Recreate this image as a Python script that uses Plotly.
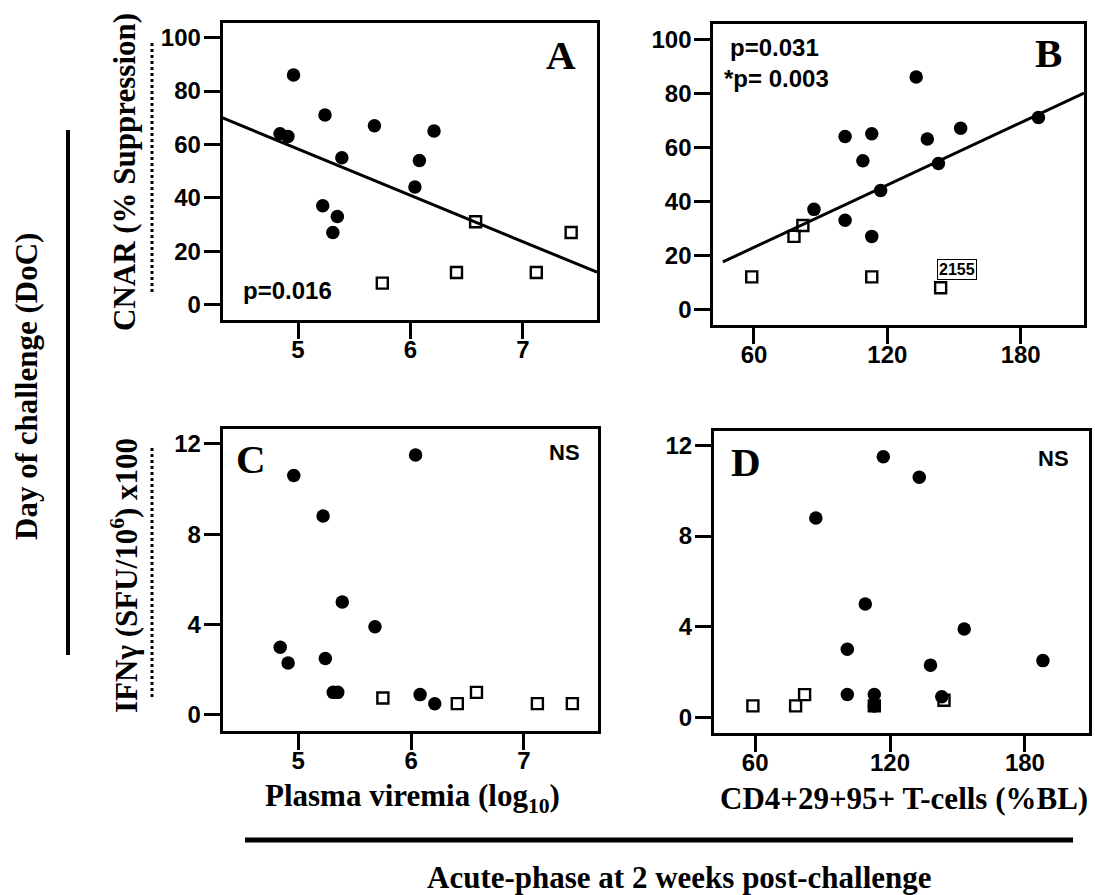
import numpy as np
import plotly.graph_objects as go

W, H = 1095, 895

# ---- data (per animal) ----
# controllers (filled circles)
ctrl_viremia = [4.84, 4.91, 4.96, 5.22, 5.24, 5.31, 5.35, 5.39, 5.68, 6.04, 6.08, 6.21]
ctrl_cd4 = [101, 138, 133, 87, 188, 113, 101, 109, 153, 117, 143, 113]
ctrl_cnar = [64, 63, 86, 37, 71, 27, 33, 55, 67, 44, 54, 65]
ctrl_ifn = [3.0, 2.3, 10.6, 8.8, 2.5, 1.0, 1.0, 5.0, 3.9, 11.5, 0.9, 0.5]
# progressors (open squares)
prog_viremia = [5.75, 6.41, 6.58, 7.12, 7.43]
prog_cd4 = [144, 59, 82, 113, 78]
prog_cnar = [8, 12, 31, 12, 27]
prog_ifn = [0.75, 0.5, 1.0, 0.5, 0.5]

vir_ticks = [5, 6, 7]
cd4_ticks = [60, 120, 180]
cnar_ticks = [0, 20, 40, 60, 80, 100]
ifn_ticks = [0, 4, 8, 12]

vir_range = [4.33, 7.66]
cd4_range = [41.7, 208.5]
cd4_line_range = [46, 208.5]
cnar_range = [-5.8, 105.6]
ifn_range = [-0.71, 12.64]


def fx(p):
    return p / W


def fy(p):
    return 1 - p / H


fig = go.Figure()

panels = {
    "A": ("x", "y", ctrl_viremia, prog_viremia, ctrl_cnar, prog_cnar, (222.7, 597, 22.7, 320)),
    "B": ("x2", "y2", ctrl_cd4, prog_cd4, ctrl_cnar, prog_cnar, (713.3, 1084, 24, 325)),
    "C": ("x3", "y3", ctrl_viremia, prog_viremia, ctrl_ifn, prog_ifn, (222.7, 598.3, 429.3, 731)),
    "D": ("x4", "y4", ctrl_cd4, prog_cd4, ctrl_ifn, prog_ifn, (714, 1089, 431, 733.3)),
}

# regression lines (A and B), fitted over all animals
for name, xr in (("A", vir_range), ("B", cd4_line_range)):
    xa, ya, xc, xp, yc, yp, _ = panels[name]
    xs = np.array(list(xc) + list(xp), dtype=float)
    ys = np.array(list(yc) + list(yp), dtype=float)
    m, b = np.polyfit(xs, ys, 1)
    lx = np.array(xr)
    fig.add_trace(go.Scatter(x=lx, y=m * lx + b, mode="lines", xaxis=xa, yaxis=ya,
                             line=dict(color="black", width=3), showlegend=False,
                             hoverinfo="skip", cliponaxis=True))

for name, (xa, ya, xc, xp, yc, yp, box) in panels.items():
    fig.add_trace(go.Scatter(x=xp, y=yp, mode="markers", xaxis=xa, yaxis=ya,
                             marker=dict(symbol="square-open", size=11, color="black",
                                         line=dict(width=2.4, color="black")),
                             showlegend=False, cliponaxis=False))
    fig.add_trace(go.Scatter(x=xc, y=yc, mode="markers", xaxis=xa, yaxis=ya,
                             marker=dict(symbol="circle", size=13.5, color="black"),
                             showlegend=False, cliponaxis=False))

tickfont = dict(family="Liberation Sans", size=24, color="black")
common = dict(showgrid=False, zeroline=False, showline=True, linecolor="black",
              linewidth=3, mirror=True, ticks="outside", ticklen=16, tickwidth=3,
              tickcolor="black", tickfont=tickfont)


def bold(vals):
    return ["<b>%g</b>" % v for v in vals]


layout_axes = {}
specs = [
    ("xaxis", "yaxis", "y", "x", vir_range, vir_ticks, cnar_range, cnar_ticks, panels["A"][6]),
    ("xaxis2", "yaxis2", "y2", "x2", cd4_range, cd4_ticks, cnar_range, cnar_ticks, panels["B"][6]),
    ("xaxis3", "yaxis3", "y3", "x3", vir_range, vir_ticks, ifn_range, ifn_ticks, panels["C"][6]),
    ("xaxis4", "yaxis4", "y4", "x4", cd4_range, cd4_ticks, ifn_range, ifn_ticks, panels["D"][6]),
]
for xk, yk, anchx, anchy, xr, xt, yr, yt, (l, r, t, b) in specs:
    layout_axes[xk] = dict(common, domain=[fx(l), fx(r)], range=xr, tickvals=xt,
                           ticktext=bold(xt), anchor=anchx, ticklabelstandoff=-10)
    layout_axes[yk] = dict(common, domain=[fy(b), fy(t)], range=yr, tickvals=yt,
                           ticktext=bold(yt), anchor=anchy, ticklabelstandoff=-2)

serif = dict(family="Liberation Serif", size=31, color="black")
sans24 = dict(family="Liberation Sans", size=24, color="black")
letter = dict(family="Liberation Serif", size=41, color="black")

ann = []


def add_text(text, px, py, font, angle=0, xanchor="center"):
    ann.append(dict(text="<b>" + text + "</b>", x=fx(px), y=fy(py), xref="paper", yref="paper",
                    xanchor=xanchor, yanchor="middle", showarrow=False, font=font,
                    textangle=angle))


add_text("A", 561, 55, letter)
add_text("B", 1048, 53, letter)
add_text("C", 251, 459, letter)
add_text("D", 746, 462, letter)
add_text("p=0.016", 240.7, 290, sans24, xanchor="left")
add_text("p=0.031", 728, 48, sans24, xanchor="left")
add_text("*p= 0.003", 722, 78, sans24, xanchor="left")
add_text("NS", 564, 452, dict(sans24, size=22))
add_text("NS", 1053, 458, dict(sans24, size=22))

ann.append(dict(text="<b>2155</b>", x=151.5, y=14.8, xref="x2", yref="y2", showarrow=False,
                font=dict(family="Liberation Sans", size=16, color="black"),
                bordercolor="black", borderwidth=1, borderpad=1, bgcolor="white"))

add_text("Plasma viremia (log<sub>10</sub>)", 412.5, 798, serif)
add_text("CD4+29+95+ T-cells (%BL)", 904, 798, serif)
add_text("Acute-phase at 2 weeks post-challenge", 679, 877, serif)
add_text("Day of challenge (DoC)", 27, 387, serif, angle=-90)
add_text("CNAR (% Suppression)", 124, 172, serif, angle=-90)
add_text("IFNγ (SFU/10<sup>6</sup>) x100", 124, 576, serif, angle=-90)

shapes = [
    dict(type="line", xref="paper", yref="paper", x0=fx(68), x1=fx(68), y0=fy(130), y1=fy(655),
         line=dict(color="black", width=4)),
    dict(type="line", xref="paper", yref="paper", x0=fx(245), x1=fx(1073), y0=fy(840), y1=fy(840),
         line=dict(color="black", width=5)),
    dict(type="line", xref="paper", yref="paper", x0=fx(152), x1=fx(152), y0=fy(43), y1=fy(295),
         line=dict(color="black", width=3, dash="dot")),
    dict(type="line", xref="paper", yref="paper", x0=fx(152), x1=fx(152), y0=fy(448), y1=fy(700),
         line=dict(color="black", width=3, dash="dot")),
]

fig.update_layout(width=W, height=H, margin=dict(l=0, r=0, t=0, b=0),
                  paper_bgcolor="white", plot_bgcolor="white", showlegend=False,
                  annotations=ann, shapes=shapes, **layout_axes)

fig.write_html("out.html")
